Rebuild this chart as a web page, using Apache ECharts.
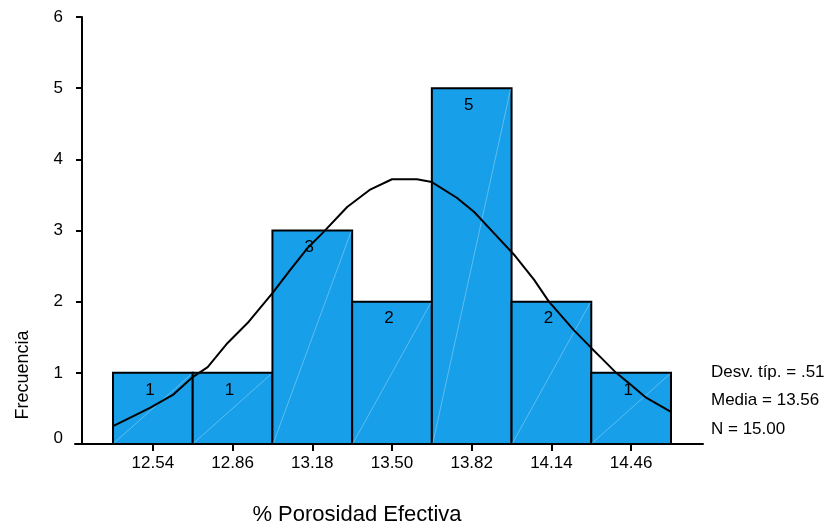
<!DOCTYPE html>
<html>
<head>
<meta charset="utf-8">
<script src="https://cdn.jsdelivr.net/npm/echarts@6/dist/echarts.min.js"></script>
<style>
  html, body { margin: 0; padding: 0; background: #fff; }
  #chart { width: 827px; height: 525px; }
</style>
</head>
<body>
<div id="chart"></div>
<script>
// histograma de % porosidad efectiva (estilo SPSS)
const binCenters = [12.54, 12.86, 13.18, 13.50, 13.82, 14.14, 14.46];
const counts = [1, 1, 3, 2, 5, 2, 1];
const binWidth = 0.32;

// curva normal
const curveX = [12.38, 12.49, 12.53, 12.62, 12.70, 12.76, 12.84, 12.92, 13.02, 13.09,
  13.16, 13.22, 13.32, 13.41, 13.50, 13.60, 13.66, 13.76, 13.83, 13.91,
  13.99, 14.07, 14.13, 14.23, 14.30, 14.34, 14.40, 14.46, 14.52, 14.62];
const curveY = [0.25, 0.44, 0.51, 0.69, 0.94, 1.08, 1.42, 1.70, 2.12, 2.44,
  2.75, 2.96, 3.33, 3.57, 3.72, 3.72, 3.68, 3.46, 3.26, 2.96,
  2.66, 2.31, 2.00, 1.60, 1.35, 1.21, 1.00, 0.83, 0.65, 0.45];

const yTicks = [0, 1, 2, 3, 4, 5, 6];
const statLines = ["Desv. típ. = .51", "Media = 13.56", "N = 15.00"];
const xTitle = "% Porosidad Efectiva";
const yTitle = "Frecuencia";

const FONT = '"Liberation Sans", Arial, sans-serif';
const barColor = "#189fe9";

const chart = echarts.init(document.getElementById("chart"));

const option = {
  animation: false,
  backgroundColor: "#fff",
  grid: { left: 75, right: 124, top: 17, bottom: 81 },
  xAxis: {
    type: "value",
    min: 12.2274,
    max: 14.7485,
    axisLine: { show: true, onZero: false, lineStyle: { color: "#000", width: 2 } },
    axisTick: { show: true, customValues: binCenters, length: 7, lineStyle: { color: "#000", width: 2 } },
    axisLabel: {
      customValues: binCenters,
      formatter: (v) => v.toFixed(2),
      color: "#000", fontSize: 17, fontFamily: FONT, margin: 11
    },
    splitLine: { show: false }
  },
  yAxis: {
    type: "value",
    min: 0,
    max: 6,
    interval: 1,
    offset: -7,
    axisLine: { show: true, lineStyle: { color: "#000", width: 2 } },
    axisTick: { show: true, length: 6, lineStyle: { color: "#000", width: 2 } },
    axisLabel: {
      color: "#000", fontSize: 17, fontFamily: FONT, margin: 19,
      formatter: (v) => (yTicks.indexOf(v) < 0 ? "" : v === 0 ? "{z|0}" : String(v)),
      rich: { z: { color: "#000", fontSize: 17, fontFamily: FONT, padding: [0, 0, 12, 0] } }
    },
    splitLine: { show: false }
  },
  series: [
    {
      type: "custom",
      z: 2,
      data: binCenters.map((c, i) => [c, counts[i]]),
      renderItem: function (params, api) {
        const c = api.value(0);
        const n = api.value(1);
        const p0 = api.coord([c - binWidth / 2, 0]);
        const p1 = api.coord([c + binWidth / 2, n]);
        return {
          type: "group",
          children: [
            {
              type: "rect",
              shape: { x: p0[0], y: p1[1], width: p1[0] - p0[0], height: p0[1] - p1[1] },
              style: { fill: barColor, stroke: "#000", lineWidth: 2 }
            },
            {
              type: "line",
              shape: { x1: p0[0] + 1, y1: p0[1] - 1, x2: p1[0] - 1, y2: p1[1] + 1 },
              style: { stroke: "rgba(255,255,255,0.3)", lineWidth: 1 }
            },
            {
              type: "text",
              x: (p0[0] + p1[0]) / 2 - 3,
              y: p1[1] + 17,
              style: {
                text: String(n), fill: "#000", fontSize: 17, fontFamily: FONT,
                align: "center", verticalAlign: "middle"
              }
            }
          ]
        };
      }
    },
    {
      type: "line",
      z: 5,
      data: curveX.map((x, i) => [x, curveY[i]]),
      symbol: "none",
      smooth: false,
      lineStyle: { color: "#000", width: 2 }
    }
  ],
  graphic: [
    {
      type: "text", x: 23, y: 375, rotation: Math.PI / 2,
      style: { text: yTitle, fill: "#000", fontSize: 18, fontFamily: FONT, align: "center", verticalAlign: "middle" }
    },
    {
      type: "text", x: 357, y: 515,
      style: { text: xTitle, fill: "#000", fontSize: 22, fontFamily: FONT, align: "center", verticalAlign: "middle" }
    }
  ].concat(statLines.map((s, i) => ({
    type: "text", x: 711, y: 372 + i * 28.5,
    style: { text: s, fill: "#000", fontSize: 17, fontFamily: FONT, align: "left", verticalAlign: "middle" }
  })))
};

chart.setOption(option);
</script>
</body>
</html>
